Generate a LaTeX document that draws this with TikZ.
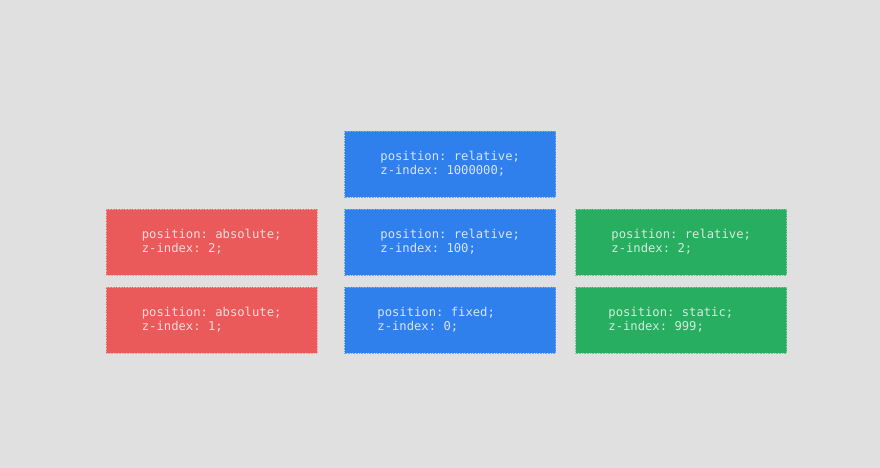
\documentclass[tikz,border=0pt]{standalone}
\usepackage{fontspec}
\setmonofont{DejaVu Sans Mono}
\usetikzlibrary{positioning}
\definecolor{bg}{HTML}{E0E0E0}
\definecolor{cssred}{HTML}{EB5A5A}
\definecolor{cssblue}{HTML}{2F80ED}
\definecolor{cssgreen}{HTML}{27AE60}
\tikzset{
    layer/.style={minimum width=211pt, minimum height=66pt, inner sep=0pt, line width=0.6pt},
    redlayer/.style={layer, fill=cssred, draw=cssred!60!white, densely dotted},
    bluelayer/.style={layer, fill=cssblue, draw=cssblue!70!white, densely dotted},
    greenlayer/.style={layer, fill=cssgreen, draw=cssgreen!65!white, densely dotted},
    code/.style={inner sep=0pt, align=left, font=\ttfamily\fontsize{12.2}{14}\selectfont},
}
\begin{document}
\begin{tikzpicture}[x=1pt, y=-1pt]
        \fill[bg] (0,0) rectangle (880,468);
        \useasboundingbox (0,0) rectangle (880,468);
        % boxes
        \node[redlayer] (r2) at (211.5, 242) {};
        \node[redlayer] (r1) at (211.5, 320) {};
        \node[bluelayer] (b3) at (450, 164) {};
        \node[bluelayer] (b2) at (450, 242) {};
        \node[bluelayer] (b1) at (450, 320) {};
        \node[greenlayer] (g2) at (681, 242) {};
        \node[greenlayer] (g1) at (681, 320) {};
        % texts
        \begin{scope}[every node/.style={code, text=white!78!cssred}]
            \node[right=36pt of r2.west] (tr2) {position: absolute;\\z-index: 2;};
            \node[right=36pt of r1.west] (tr1) {position: absolute;\\z-index: 1;};
        \end{scope}
        \begin{scope}[every node/.style={code, text=white!80!cssblue}]
            \node[right=36pt of b3.west] (tb3) {position: relative;\\z-index: 1000000;};
            \node[right=36pt of b2.west] (tb2) {position: relative;\\z-index: 100;};
            \node[right=33pt of b1.west] (tb1) {position: fixed;\\z-index: 0;};
        \end{scope}
        \begin{scope}[every node/.style={code, text=white!78!cssgreen}]
            \node[right=36pt of g2.west] (tg2) {position: relative;\\z-index: 2;};
            \node[right=33pt of g1.west] (tg1) {position: static;\\z-index: 999;};
        \end{scope}
    \end{tikzpicture}
\end{document}
